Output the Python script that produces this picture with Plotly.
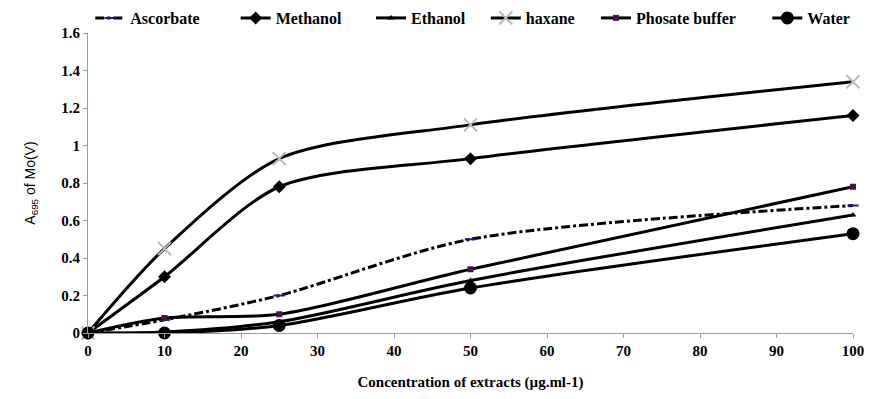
import plotly.graph_objects as go

x = [0, 10, 25, 50, 100]
ascorbate = [0, 0.07, 0.20, 0.50, 0.68]
methanol = [0, 0.30, 0.78, 0.93, 1.16]
ethanol = [0, 0.005, 0.06, 0.28, 0.63]
haxane = [0, 0.45, 0.93, 1.11, 1.34]
phosate = [0, 0.08, 0.10, 0.34, 0.78]
water = [0, 0.0, 0.04, 0.24, 0.53]

x_ticks = [0, 10, 20, 30, 40, 50, 60, 70, 80, 90, 100]
y_ticks = [0, 0.2, 0.4, 0.6, 0.8, 1, 1.2, 1.4, 1.6]
y_tick_labels = ["0", "0.2", "0.4", "0.6", "0.8", "1", "1.2", "1.4", "1.6"]

font_serif = "Times New Roman, Liberation Serif, DejaVu Serif, serif"

fig = go.Figure()
series = [
    ("Ascorbate", ascorbate, dict(symbol="line-ew", size=8, color="#1a1a8c", line=dict(width=2, color="#1a1a8c")), "dashdot"),
    ("Methanol", methanol, dict(symbol="diamond", size=10, color="black"), "solid"),
    ("Ethanol", ethanol, dict(symbol="triangle-up", size=6, color="black"), "solid"),
    ("haxane", haxane, dict(symbol="x-thin", size=13, color="#b8b8b8", line=dict(width=2, color="#b8b8b8")), "solid"),
    ("Phosate buffer", phosate, dict(symbol="square", size=6, color="#4a1248"), "solid"),
    ("Water", water, dict(symbol="circle", size=13, color="black"), "solid"),
]
# legend item left edges (fraction of plot width)
legend_x = [0.003, 0.193, 0.370, 0.520, 0.664, 0.888]
legend_names = ["legend", "legend2", "legend3", "legend4", "legend5", "legend6"]

for (name, ys, mk, dash), lg in zip(series, legend_names):
    fig.add_trace(go.Scatter(
        x=x, y=ys, name="<b>%s</b>" % name, mode="lines+markers",
        line=dict(color="black", width=3, shape="spline", smoothing=0.8, dash=dash),
        marker=mk, cliponaxis=False, legend=lg,
    ))

legend_layout = {}
for lg, lx in zip(legend_names, legend_x):
    legend_layout[lg] = dict(orientation="h", x=lx, y=1.05, xanchor="left", yanchor="middle",
                             font=dict(family=font_serif, size=16, color="black"),
                             itemwidth=30, bgcolor="rgba(0,0,0,0)")

fig.update_layout(
    width=883, height=399,
    margin=dict(l=88, r=30, t=33, b=66, autoexpand=False),
    plot_bgcolor="white", paper_bgcolor="white",
    showlegend=True,
    xaxis=dict(range=[0, 100], tickvals=x_ticks, ticktext=["<b>%d</b>" % t for t in x_ticks],
               showgrid=False, zeroline=False,
               showline=True, linecolor="#9a9a9a", linewidth=1,
               ticks="outside", ticklen=4, tickcolor="#9a9a9a",
               tickfont=dict(family=font_serif, size=15, color="black"),
               title=dict(text="<b>Concentration of extracts (µg.ml-1)</b>",
                          font=dict(family=font_serif, size=15, color="black"), standoff=18)),
    yaxis=dict(range=[0, 1.6], tickvals=y_ticks, ticktext=["<b>%s</b>" % t for t in y_tick_labels],
               showgrid=False, zeroline=False,
               showline=True, linecolor="#9a9a9a", linewidth=1,
               ticks="outside", ticklen=4, tickcolor="#9a9a9a",
               tickfont=dict(family=font_serif, size=15, color="black"),
               title=dict(text="A<sub>695</sub> of Mo(V)",
                          font=dict(family="Arial, Liberation Sans, sans-serif", size=14, color="black"), standoff=22)),
    **legend_layout,
)
fig.write_html("out.html")
